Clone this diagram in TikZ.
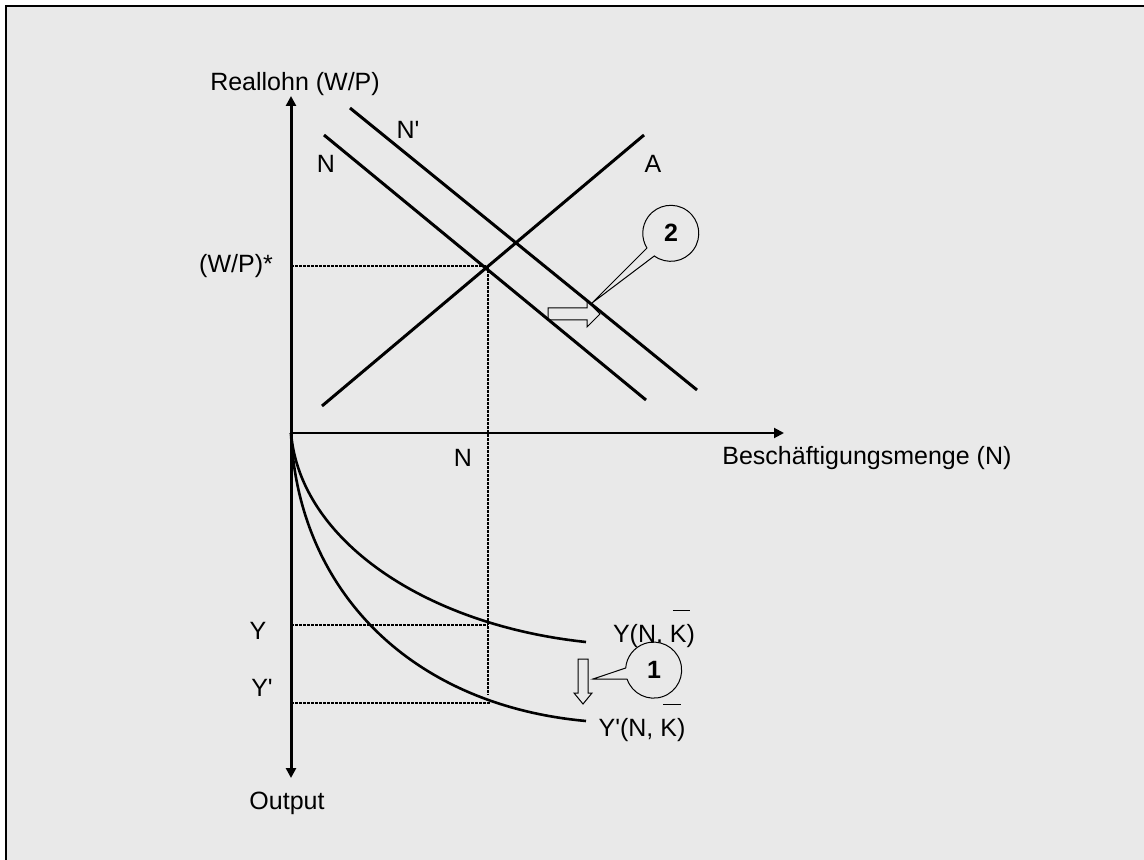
\documentclass[tikz,border=0pt]{standalone}
\usepackage{fontspec}
\setmainfont{Liberation Sans}
\usetikzlibrary{arrows.meta}
\definecolor{bg}{HTML}{E9E9E9}
\newcommand\Kbar{\leavevmode\rlap{\hspace{0.12em}\raisebox{1.25em}{\rule{0.7em}{0.5pt}}}K}
\newcommand\pr{\textquotesingle}
\begin{document}
\begin{tikzpicture}[x=0.5pt,y=-0.5pt,
  lbl/.style={font=\fontsize{12.5}{15}\selectfont, inner sep=0pt},
  axisv/.style={line width=1.5pt, -{Triangle[length=5pt,width=5pt]}},
  axish/.style={line width=1pt, -{Triangle[length=5pt,width=5pt]}},
  curveline/.style={line width=1.5pt},
  prodcurve/.style={line width=1.3pt},
  guide/.style={line width=1.1pt, dash pattern=on 1.5pt off 0.5pt},
  blockarrow/.style={draw, line width=0.5pt, fill=bg},
  callout/.style={circle, minimum size=28pt, inner sep=0pt, font=\fontsize{12.5}{15}\selectfont\bfseries},
  calloutline/.style={line width=0.5pt, fill=bg}
]
\useasboundingbox (0,0) rectangle (1144,860);
\fill[white] (0,0) rectangle (1144,860);
\fill[bg] (6,6) rectangle (1144,860);
\draw[line width=1pt] (6,860) -- (6,6) -- (1144,6);

% coordinates
\coordinate (O) at (291,433);
\coordinate (ytop) at (291,96);
\coordinate (ybot) at (291,778);
\coordinate (xend) at (784,433);
\coordinate (N1) at (324,135);
\coordinate (N2) at (646,400);
\coordinate (Np1) at (350,108);
\coordinate (Np2) at (697,390);
\coordinate (A1) at (322,406);
\coordinate (A2) at (644,135);
\coordinate (E) at (488,266);
\coordinate (wpax) at (291,266);
\coordinate (Nbot) at (488,695);
\coordinate (Yax) at (291,625);
\coordinate (Ypt) at (488,625);
\coordinate (Ypax) at (291,703);
\coordinate (Yppt) at (490,703);
\coordinate (Yend) at (586,642);
\coordinate (Ypend) at (586,721);

% block arrows
\draw[blockarrow] (548,308) -- (587,308) -- (587,301) -- (600,314) -- (587,327) -- (587,320) -- (548,320) -- cycle;
\draw[blockarrow] (578,659) -- (588,659) -- (588,693) -- (592,693) -- (583,704) -- (574,693) -- (578,693) -- cycle;

% guides
\draw[guide] (wpax) -- (E);
\draw[guide] (E) -- (Nbot);
\draw[guide] (Yax) -- (Ypt);
\draw[guide] (Ypax) -- (Yppt);

% axes
\draw[axisv] (O) -- (ytop);
\draw[axisv] (O) -- (ybot);
\draw[axish] (O) -- (xend);

% curves
\draw[curveline] (N1) -- (N2);
\draw[curveline] (Np1) -- (Np2);
\draw[curveline] (A1) -- (A2);
\draw[prodcurve] (O) .. controls (300,540) and (425,625) .. (Yend);
\draw[prodcurve] (O) .. controls (298,590) and (410,705) .. (Ypend);

% labels
\node[lbl] (lw) at (295,84) {Reallohn (W/P)};
\node[lbl] (lwp) at (236,266) {(W/P)*};
\node[lbl] (lnp) at (408,130) {N\pr};
\node[lbl] (ln) at (326,164) {N};
\node[lbl] (la) at (653,164) {A};
\node[lbl] (lnx) at (463,458) {N};
\node[lbl, anchor=west] (lb) at (722,458) {Beschäftigungsmenge (N)};
\node[lbl] (ly) at (258,631) {Y};
\node[lbl] (lyp) at (262,688) {Y\pr};
\node[lbl] (lyc) at (654,629) {Y(N, \Kbar)};
\node[lbl] (lypc) at (642,723) {Y\pr(N, \Kbar)};
\node[lbl] (lo) at (287,803) {Output};

% callouts
\node[callout] (c2) at (671,233) {2};
\coordinate (t2) at (592,303);
\draw[calloutline] (c2.212) -- (t2) -- (c2.234) arc[start angle=234, end angle=572, radius=14pt];
\node[callout] (c2t) at (671,233) {2};
\node[callout] (c1) at (654,670) {1};
\coordinate (t1) at (593,679);
\draw[calloutline] (c1.176) -- (t1) -- (c1.199) arc[start angle=199, end angle=536, radius=14pt];
\node[callout] (c1t) at (654,670) {1};
\end{tikzpicture}
\end{document}
